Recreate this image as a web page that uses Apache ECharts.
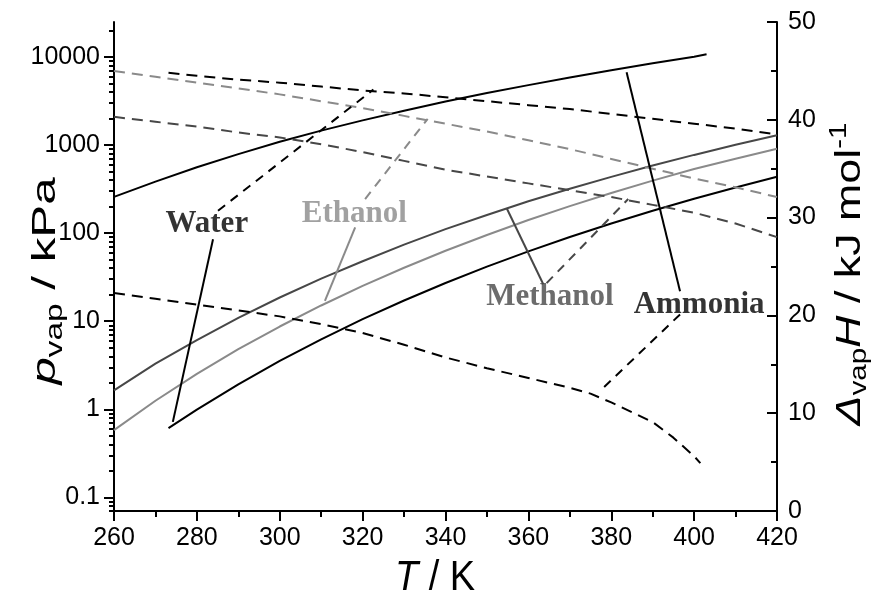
<!DOCTYPE html>
<html>
<head>
<meta charset="utf-8">
<script src="https://cdn.jsdelivr.net/npm/echarts@6/dist/echarts.min.js"></script>
<style>
  html, body { margin: 0; padding: 0; background: #fff; }
  #chart { width: 885px; height: 599px; }
</style>
</head>
<body>
<div id="chart"></div>
<script>
// ---- Vapour pressure p_vap (kPa) against temperature T (K) ----
const T_NH3_P   = [260, 270, 280, 290, 300, 310, 320, 330, 340, 350, 360, 370, 380, 390, 400, 403];
const P_NH3     = [258, 385, 560, 790, 1090, 1460, 1910, 2460, 3120, 3900, 4800, 5870, 7080, 8480, 10100, 10750];

const T_ALC_P   = [260, 270, 280, 290, 300, 310, 320, 330, 340, 350, 360, 370, 380, 390, 400, 410, 420];
const P_MEOH    = [1.64, 3.3, 6.1, 10.9, 18.6, 30.5, 48, 74, 111, 161, 230, 319, 436, 586, 774, 1009, 1296];
const P_ETOH    = [0.58, 1.25, 2.52, 4.81, 8.71, 15.1, 25.2, 40.5, 63.1, 95.4, 141, 203, 286, 395, 536, 700, 910];

const T_H2O_P   = [273.15, 280, 290, 300, 310, 320, 330, 340, 350, 360, 370, 380, 390, 400, 410, 420];
const P_H2O     = [0.611, 0.99, 1.92, 3.54, 6.23, 10.55, 17.2, 27.2, 41.7, 62.2, 90.4, 128.7, 179.5, 245.8, 330.6, 437];

// ---- Enthalpy of vaporisation (kJ/mol) against T (K) ----
const T_H2O_H   = [273.15, 280, 290, 300, 310, 320, 330, 340, 350, 360, 370, 380, 390, 400, 410, 420];
const H_H2O     = [44.8, 44.5, 44.1, 43.8, 43.4, 43.0, 42.7, 42.3, 41.9, 41.5, 41.1, 40.6, 40.1, 39.6, 39.1, 38.5];

const T_ALC_H   = [260, 270, 280, 290, 300, 310, 320, 330, 340, 350, 360, 370, 380, 390, 400, 410, 420];
const H_ETOH    = [45.0, 44.4, 43.8, 43.2, 42.6, 41.9, 41.2, 40.4, 39.6, 38.8, 37.9, 37.0, 36.0, 35.0, 34.0, 33.1, 32.1];
const H_MEOH    = [40.3, 39.8, 39.3, 38.7, 38.2, 37.5, 36.7, 35.8, 34.9, 34.2, 33.5, 32.8, 32.1, 31.3, 30.5, 29.4, 28.0];

const T_NH3_H   = [260, 270, 280, 290, 300, 310, 320, 330, 340, 350, 360, 370, 375, 380, 385, 390, 395, 400, 401.5];
const H_NH3     = [22.3, 21.7, 21.1, 20.5, 19.9, 19.1, 18.2, 17.0, 15.7, 14.6, 13.6, 12.6, 12.0, 11.1, 10.1, 9.1, 7.5, 5.6, 4.9];

// ---- Axis ticks ----
const P_TICKS       = [0.1, 1, 10, 100, 1000, 10000];
const P_TICK_LABELS = ['0.1', '1', '10', '100', '1000', '10000'];
const P_MIN = 0.07, P_MAX = 25000;

// ---- Compound names, colours and annotation anchors ----
// LABEL_AT: [T, ΔvapH] on the enthalpy axis;
// LEAD_P: leader to the pressure curve, [[T, p], [T, p]];
// LEAD_H: leader to the enthalpy curve, [[T, H], [T, H]].
const NAMES   = ['Water', 'Ethanol', 'Methanol', 'Ammonia'];
const COLORS  = ['#000000', '#8a8a8a', '#474747', '#000000'];
const LABEL_AT = [[282.4, 29.3], [318.0, 30.4], [365.2, 21.9], [401.2, 21.1]];
const LEAD_P  = [
  [[283.9, 85.5], [274.2, 0.72]],
  [[318.2, 116], [310.9, 17.0]],
  [[354.8, 190.7], [363.6, 26.3]],
  [[383.7, 6700], [396.6, 21.9]]
];
const LEAD_H  = [
  [[285.1, 30.7], [322.6, 43.1]],
  [[320.6, 31.9], [335.7, 40.1]],
  [[364.4, 23.3], [384.1, 31.9]],
  [[396.6, 20.1], [378.1, 12.6]]
];

const lg = Math.log10;
const LOG_MIN = lg(P_MIN), LOG_MAX = lg(P_MAX);
const MAJOR_LOGS = P_TICKS.map(lg);
const MINOR_LOGS = [];
for (let e = -2; e <= 4; e++) {
  for (let k = 2; k <= 9; k++) {
    const v = k * Math.pow(10, e);
    if (v >= P_MIN * 0.999 && v <= P_MAX) MINOR_LOGS.push(lg(v));
  }
}

const zipP = (ts, ps) => ts.map((t, i) => [t, lg(ps[i])]);
const zipH = (ts, hs) => ts.map((t, i) => [t, hs[i]]);

const AXIS_COLOR = '#000';
const SANS = 'Liberation Sans, Arial, sans-serif';
const SERIF = 'Liberation Serif, Times New Roman, serif';
const DASH = [11, 7];
const TICK_FONT = 25;

function curve(data, axis, color, dashed) {
  return {
    type: 'line', yAxisIndex: axis, data: data, symbol: 'none', smooth: false,
    lineStyle: { color: color, width: 2, type: dashed ? DASH : 'solid' },
    z: 3, silent: true
  };
}

const series = [
  curve(zipP(T_NH3_P, P_NH3), 0, COLORS[3], false),
  curve(zipP(T_ALC_P, P_MEOH), 0, COLORS[2], false),
  curve(zipP(T_ALC_P, P_ETOH), 0, COLORS[1], false),
  curve(zipP(T_H2O_P, P_H2O), 0, COLORS[0], false),
  curve(zipH(T_H2O_H, H_H2O), 2, COLORS[0], true),
  curve(zipH(T_ALC_H, H_ETOH), 2, COLORS[1], true),
  curve(zipH(T_ALC_H, H_MEOH), 2, COLORS[2], true),
  curve(zipH(T_NH3_H, H_NH3), 2, COLORS[3], true)
];

NAMES.forEach((name, i) => {
  series.push({
    type: 'line', yAxisIndex: 0, symbol: 'none', silent: true, z: 4,
    data: LEAD_P[i].map(p => [p[0], lg(p[1])]),
    lineStyle: { color: COLORS[i], width: 2 }
  });
  series.push({
    type: 'line', yAxisIndex: 2, symbol: 'none', silent: true, z: 4,
    data: LEAD_H[i],
    lineStyle: { color: COLORS[i], width: 2, type: [9, 7] }
  });
  series.push({
    type: 'scatter', yAxisIndex: 2, symbolSize: 0, silent: true, z: 5,
    data: [{ name: name, value: LABEL_AT[i] }],
    label: {
      show: true, position: 'inside', formatter: '{b}',
      fontFamily: SERIF, fontWeight: 'bold', fontSize: 31, color: COLORS[i]
    }
  });
});

const chart = echarts.init(document.getElementById('chart'), null, { renderer: 'canvas' });
chart.setOption({
  animation: false,
  backgroundColor: '#fff',
  grid: { left: 114, right: 108, top: 22, bottom: 88, containLabel: false },
  xAxis: {
    type: 'value', min: 260, max: 420, interval: 20,
    axisLine: { onZero: false, lineStyle: { color: AXIS_COLOR, width: 2 } },
    axisTick: { length: 10, lineStyle: { color: AXIS_COLOR, width: 2 } },
    minorTick: { show: true, splitNumber: 2, length: 6, lineStyle: { color: AXIS_COLOR, width: 2 } },
    splitLine: { show: false },
    axisLabel: { fontSize: TICK_FONT, fontFamily: SANS, color: '#000', margin: 15 }
  },
  yAxis: [
    {
      type: 'value', min: LOG_MIN, max: LOG_MAX, position: 'left',
      axisLine: { show: true, onZero: false, lineStyle: { color: AXIS_COLOR, width: 2 } },
      axisTick: { show: true, length: 10, customValues: MAJOR_LOGS, lineStyle: { color: AXIS_COLOR, width: 2 } },
      axisLabel: {
        customValues: MAJOR_LOGS, fontSize: TICK_FONT, fontFamily: SANS, color: '#000', margin: 14,
        formatter: v => {
          const i = MAJOR_LOGS.findIndex(m => Math.abs(m - v) < 1e-6);
          return i >= 0 ? P_TICK_LABELS[i] : '';
        }
      },
      splitLine: { show: false }
    },
    {
      type: 'value', min: LOG_MIN, max: LOG_MAX, position: 'left',
      axisLine: { show: false, onZero: false },
      axisTick: { show: true, length: 5, customValues: MINOR_LOGS, lineStyle: { color: AXIS_COLOR, width: 2 } },
      axisLabel: { show: false },
      splitLine: { show: false }
    },
    {
      type: 'value', min: 0, max: 50, interval: 10, position: 'right',
      axisLine: { show: true, onZero: false, lineStyle: { color: AXIS_COLOR, width: 2 } },
      axisTick: { inside: true, length: 10, lineStyle: { color: AXIS_COLOR, width: 2 } },
      minorTick: { show: true, splitNumber: 2, length: 6, lineStyle: { color: AXIS_COLOR, width: 2 } },
      axisLabel: { fontSize: TICK_FONT, fontFamily: SANS, color: '#000', margin: 11 },
      splitLine: { show: false }
    }
  ],
  graphic: [
    {
      type: 'text', x: 435, y: 578, scaleY: 1.12,
      style: {
        text: '{i|T}{n| / K}', align: 'center', verticalAlign: 'middle',
        rich: {
          i: { fontSize: 38, fontFamily: SANS, fontStyle: 'italic', fill: '#000' },
          n: { fontSize: 38, fontFamily: SANS, fill: '#000' }
        }
      }
    },
    {
      type: 'text', x: 46, y: 281, rotation: Math.PI / 2, scaleX: 1.45,
      style: {
        text: '{i|p}{s|vap}{n| / kPa}', align: 'center', verticalAlign: 'middle',
        rich: {
          i: { fontSize: 34, lineHeight: 42, fontFamily: SANS, fontStyle: 'italic', fill: '#000' },
          s: { fontSize: 23, lineHeight: 23, fontFamily: SANS, fill: '#000', verticalAlign: 'bottom' },
          n: { fontSize: 34, lineHeight: 42, fontFamily: SANS, fill: '#000' }
        }
      }
    },
    {
      type: 'text', x: 850, y: 274, rotation: Math.PI / 2, scaleX: 1.28,
      style: {
        text: '{i|Δ}{s|vap}{i|H}{n| / kJ mol}{u|-1}', align: 'center', verticalAlign: 'middle',
        rich: {
          i: { fontSize: 35, lineHeight: 43, fontFamily: SANS, fontStyle: 'italic', fill: '#000' },
          s: { fontSize: 23, lineHeight: 23, fontFamily: SANS, fill: '#000', verticalAlign: 'bottom' },
          n: { fontSize: 35, lineHeight: 43, fontFamily: SANS, fill: '#000' },
          u: { fontSize: 23, lineHeight: 23, fontFamily: SANS, fill: '#000', verticalAlign: 'top' }
        }
      }
    }
  ],
  series: series
});
</script>
</body>
</html>
